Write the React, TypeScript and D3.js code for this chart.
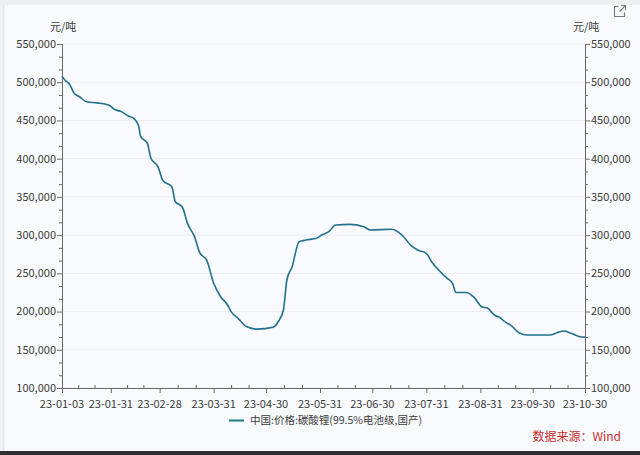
import React from "react";
import * as d3 from "d3";

const dates: string[] = [
  "2023-01-03","2023-01-05","2023-01-07","2023-01-10","2023-01-13","2023-01-17","2023-01-23","2023-01-30",
  "2023-02-02","2023-02-06","2023-02-10","2023-02-13","2023-02-16","2023-02-17","2023-02-21","2023-02-23","2023-02-27",
  "2023-03-02","2023-03-07","2023-03-09","2023-03-13","2023-03-16","2023-03-20","2023-03-23","2023-03-27","2023-03-31",
  "2023-04-04","2023-04-08","2023-04-10","2023-04-14","2023-04-19","2023-04-25",
  "2023-05-04","2023-05-07","2023-05-10","2023-05-12","2023-05-15","2023-05-19","2023-05-23","2023-05-29",
  "2023-06-01","2023-06-05","2023-06-09","2023-06-17","2023-06-25","2023-06-29",
  "2023-07-11","2023-07-17","2023-07-22","2023-07-26","2023-07-31",
  "2023-08-03","2023-08-08","2023-08-12","2023-08-15","2023-08-17","2023-08-23","2023-08-27",
  "2023-09-01","2023-09-04","2023-09-08","2023-09-11","2023-09-14","2023-09-18","2023-09-22","2023-09-27",
  "2023-10-10","2023-10-14","2023-10-18","2023-10-22","2023-10-27","2023-10-30",
];
const prices: number[] = [
  508000,502000,498500,485500,481000,474500,473000,470000,
  464600,461500,455800,453000,442700,429600,420000,400500,389500,
  371000,363300,343700,336800,315400,298000,277000,267400,237000,
  219400,208600,200000,191000,180000,177000,
  179400,186700,202000,241300,258700,291400,293600,295800,
  300100,304500,313200,314000,311000,306700,
  307600,300100,287000,280500,276200,
  265200,252100,243500,237000,225000,225000,219400,
  206000,204600,195500,192500,186700,181100,172300,169300,
  169300,172300,174600,171600,167100,166300,
];
const xTickDates: string[] = [
  "2023-01-03","2023-01-31","2023-02-28","2023-03-31","2023-04-30","2023-05-31",
  "2023-06-30","2023-07-31","2023-08-31","2023-09-30","2023-10-30",
];
const yTicks: number[] = [100000,150000,200000,250000,300000,350000,400000,450000,500000,550000];
const seriesName = "中国:价格:碳酸锂(99.5%电池级,国产)";
const unitLabel = "元/吨";
const sourceLabel = "数据来源：Wind";

const W = 640, H = 455;
const L = 62, R = 585, T = 44, B = 388;
const FONT = "'Noto Sans CJK SC', 'Noto Sans', sans-serif";

export default function App() {
  const parse = d3.utcParse("%Y-%m-%d");
  const fmt = d3.utcFormat("%y-%m-%d");
  const data = dates.map((d, i) => ({ date: parse(d) as Date, v: prices[i] }));
  const xTicks = xTickDates.map((d) => parse(d) as Date);
  const x = d3.scaleUtc().domain([xTicks[0], xTicks[xTicks.length - 1]]).range([L, R]);
  const y = d3.scaleLinear().domain([100000, 550000]).range([B, T]);
  const line = d3.line<{ date: Date; v: number }>()
    .x((d) => x(d.date))
    .y((d) => y(d.v))
    .curve(d3.curveMonotoneX);
  const yFmt = d3.format(",");

  const yMinor: number[] = [];
  for (let i = 0; i < yTicks.length - 1; i++) {
    const a = yTicks[i], b = yTicks[i + 1];
    yMinor.push(a + (b - a) / 3, a + (2 * (b - a)) / 3);
  }
  const xMinor: number[] = [];
  for (let i = 0; i < xTicks.length - 1; i++) {
    const a = x(xTicks[i]), b = x(xTicks[i + 1]);
    xMinor.push(a + (b - a) / 3, a + (2 * (b - a)) / 3);
  }

  const axisColor = "#6a6a6a";
  const textColor = "#3a3a3a";

  return (
    <svg width={W} height={H} style={{ position: "fixed", left: 0, top: 0, fontFamily: FONT }}>
      <rect x={0} y={0} width={W} height={H} fill="#f9fafd" />
      <rect x={0} y={0} width={W} height={5} fill="#eef0f4" />
      <rect x={0} y={0} width={5} height={H} fill="#eef0f4" />
      <line x1={3.5} x2={3.5} y1={5} y2={450} stroke="#e2e5ea" />
      <rect x={0} y={451} width={W} height={4} fill="#2e2e2e" />

      {/* external link icon */}
      <g stroke="#777" strokeWidth={1.1} fill="none">
        <path d="M618.5,6.5 H614.5 V16.5 H624.5 V12.5" />
        <path d="M619.5,11.5 L625,6 M621,5.5 H625.5 V10" />
      </g>

      {/* gridlines */}
      {yTicks.map((t) => (
        <line key={"g" + t} x1={L} x2={R} y1={y(t)} y2={y(t)} stroke="#e9ecf2" strokeWidth={1} />
      ))}

      {/* left axis */}
      <line x1={L + 0.5} x2={L + 0.5} y1={T} y2={B} stroke={axisColor} />
      {yTicks.map((t) => (
        <g key={"ly" + t}>
          <line x1={L - 5} x2={L} y1={y(t) + 0.5} y2={y(t) + 0.5} stroke={axisColor} />
          <text x={L - 6} y={y(t)} dy="0.35em" textAnchor="end" fontSize={11} fill={textColor}>
            {yFmt(t)}
          </text>
        </g>
      ))}
      {yMinor.map((t, i) => (
        <line key={"lm" + i} x1={L - 3} x2={L} y1={y(t) + 0.5} y2={y(t) + 0.5} stroke={axisColor} />
      ))}
      <text x={50} y={31} fontSize={11} fill={textColor}>{unitLabel}</text>

      {/* right axis */}
      <line x1={R + 0.5} x2={R + 0.5} y1={T} y2={B} stroke={axisColor} />
      {yTicks.map((t) => (
        <g key={"ry" + t}>
          <line x1={R} x2={R + 5} y1={y(t) + 0.5} y2={y(t) + 0.5} stroke={axisColor} />
          <text x={R + 6} y={y(t)} dy="0.35em" textAnchor="start" fontSize={11} fill={textColor}>
            {yFmt(t)}
          </text>
        </g>
      ))}
      {yMinor.map((t, i) => (
        <line key={"rm" + i} x1={R} x2={R + 3} y1={y(t) + 0.5} y2={y(t) + 0.5} stroke={axisColor} />
      ))}
      <text x={573} y={31} fontSize={11} fill={textColor}>{unitLabel}</text>

      {/* x axis */}
      <line x1={L} x2={R} y1={B + 0.5} y2={B + 0.5} stroke={axisColor} />
      {xTicks.map((d, i) => (
        <g key={"x" + i}>
          <line x1={x(d) + 0.5} x2={x(d) + 0.5} y1={B} y2={B + 5} stroke={axisColor} />
          <text x={x(d)} y={408} textAnchor="middle" fontSize={11} fill={textColor}>
            {fmt(d)}
          </text>
        </g>
      ))}
      {xMinor.map((p, i) => (
        <line key={"xm" + i} x1={p + 0.5} x2={p + 0.5} y1={B - 3} y2={B} stroke={axisColor} />
      ))}

      {/* series */}
      <path d={line(data) || ""} fill="none" stroke="#226f8e" strokeWidth={1.6} strokeLinejoin="round" />

      {/* legend */}
      <line x1={229} x2={244} y1={420.5} y2={420.5} stroke="#1b7c8a" strokeWidth={2} />
      <text x={250} y={424} fontSize={10.5} fill={textColor}>{seriesName}</text>

      <text x={621} y={441} textAnchor="end" fontSize={12} fill="#c8302c">{sourceLabel}</text>
    </svg>
  );
}
